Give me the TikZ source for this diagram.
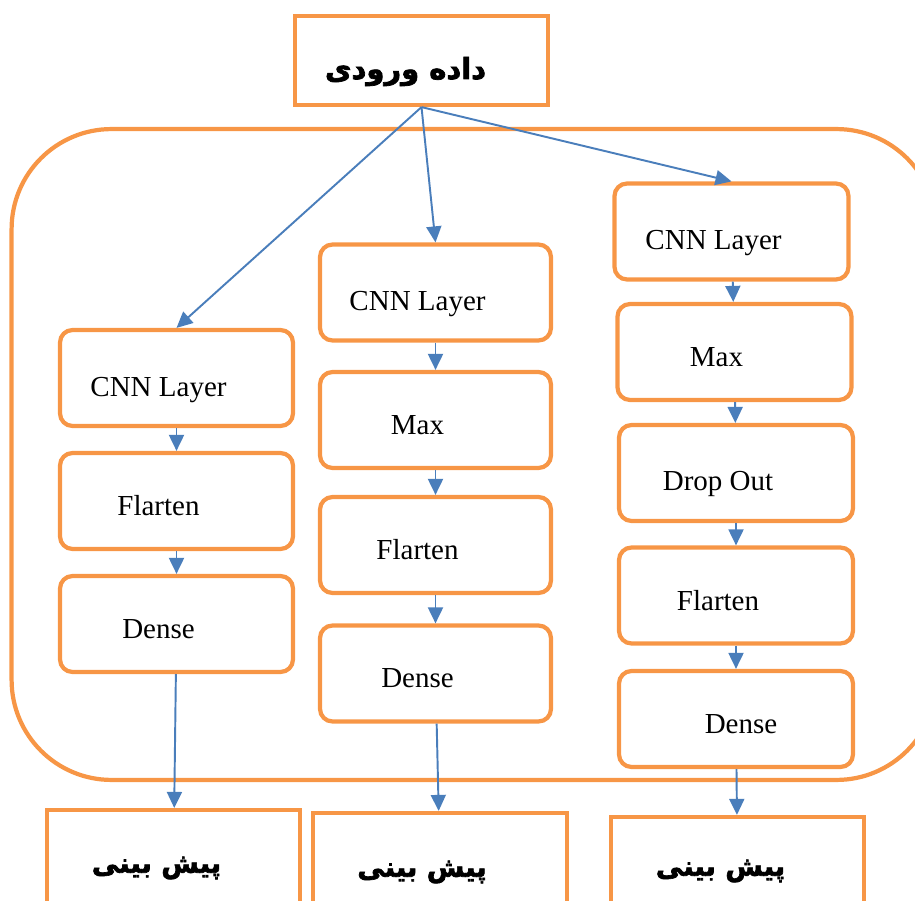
\documentclass[tikz,border=0pt]{standalone}
\usepackage{fontspec}
\setmainfont{Liberation Serif}
\newfontfamily\arabicfont[Script=Arabic, FakeBold=2.5]{DejaVu Sans Bold}
\TeXXeTstate=1
\usepackage{tikz}
\usetikzlibrary{arrows.meta}
\usetikzlibrary{positioning}
\definecolor{boxorange}{HTML}{F79646}
\definecolor{arrowblue}{HTML}{4A7EBB}

\begin{document}
\begin{tikzpicture}[
                x = 0.02cm, y = -0.02cm,
                every node/.style = {inner sep = 0pt},
                layer/.style = {draw = boxorange, line width = 2.4pt,
                  rounded corners = 0.25cm, minimum width = 4.66cm,
                  minimum height = 1.92cm},
                lbl/.style = {xshift = -0.36cm, yshift = -0.1cm,
                  font = \fontsize{16.5}{18}\selectfont},
                cnnlbl/.style = {lbl, yshift = -0.14cm},
                farsi/.style = {font = \arabicfont\fontsize{15.5}{18}\selectfont},
                result/.style = {draw = boxorange, line width = 2.4pt,
                  minimum width = 5.07cm, minimum height = 2.2cm},
                flow/.style = {draw = arrowblue, line width = 1.1pt,
                  -{Triangle[length = 0.32cm, width = 0.3cm]}}
                ]
                \useasboundingbox (0,0) rectangle (915,901);
                \clip (0,0) rectangle (915,901);

                % outer container
                \node[draw = boxorange, line width = 2.4pt, rounded corners = 2cm,
                      minimum width = 18.5cm, minimum height = 13.02cm]
                      (model) at (474,454.5) {};

                % input
                \node[draw = boxorange, line width = 2.4pt, minimum width = 5.06cm,
                      minimum height = 1.78cm,
                      label = {[farsi, font = \arabicfont\fontsize{16.5}{19}\selectfont,
                                xshift = -0.32cm, yshift = -0.22cm]center:\beginR داده ورودی\endR}]
                      (input) at (421.5,60.5) {};

                % column 1
                \node[layer, label = {[cnnlbl]center:CNN Layer}] (cnnA) at (176.5,378) {};
                \node[layer, label = {[lbl]center:Flarten}]   (flatA) at (176.5,501) {};
                \node[layer, label = {[lbl]center:Dense}]     (denseA) at (176.5,624) {};

                % column 2
                \begin{scope}[layer/.append style = {minimum width = 4.62cm}]
                  \node[layer, label = {[cnnlbl]center:CNN Layer}] (cnnB) at (435.5,292.5) {};
                  \node[layer, label = {[lbl]center:Max}]       (maxB) at (435.5,420) {};
                  \node[layer, label = {[lbl]center:Flarten}]   (flatB) at (435.5,545) {};
                  \node[layer, label = {[lbl]center:Dense}]     (denseB) at (435.5,673.5) {};
                \end{scope}

                % column 3
                \begin{scope}[layer/.append style = {minimum width = 4.68cm}]
                  \node[layer, label = {[cnnlbl]center:CNN Layer}] (cnnC) at (731.5,231.5) {};
                  \node[layer, label = {[lbl]center:Max}]       (maxC) at (734.5,352) {};
                  \node[layer, label = {[lbl, yshift = -0.12cm]center:Drop Out}]  (dropC) at (736,473) {};
                  \node[layer, label = {[lbl]center:Flarten}]   (flatC) at (736,595.5) {};
                  \node[layer, label = {[lbl, xshift = 0.46cm]center:Dense}] (denseC) at (736,719) {};
                \end{scope}

                % predictions
                \node[result, label = {[farsi, xshift = -0.34cm, yshift = -0.06cm]center:\beginR پیش بینی\endR}]
                      (predA) at (173.5,865) {};
                \node[result, label = {[farsi, xshift = -0.36cm, yshift = -0.08cm]center:\beginR پیش بینی\endR}]
                      (predB) at (440,868) {};
                \node[result, label = {[farsi, xshift = -0.34cm, yshift = 0.02cm]center:\beginR پیش بینی\endR}]
                      (predC) at (737.5,872) {};

                % Arrows
                \draw[flow] (input.south) -- (cnnA.north);
                \draw[flow] (input.south) -- (cnnB.north);
                \draw[flow] (input.south) -- (cnnC.north);
                \draw[flow] (cnnA) -- (flatA);
                \draw[flow] (flatA) -- (denseA);
                \draw[flow] (denseA) -- (predA);
                \draw[flow] (cnnB) -- (maxB);
                \draw[flow] (maxB) -- (flatB);
                \draw[flow] (flatB) -- (denseB);
                \draw[flow] (denseB) -- (predB);
                \draw[flow] (cnnC) -- (maxC);
                \draw[flow] (maxC) -- (dropC);
                \draw[flow] (dropC) -- (flatC);
                \draw[flow] (flatC) -- (denseC);
                \draw[flow] (denseC) -- (predC);
\end{tikzpicture}
\end{document}
